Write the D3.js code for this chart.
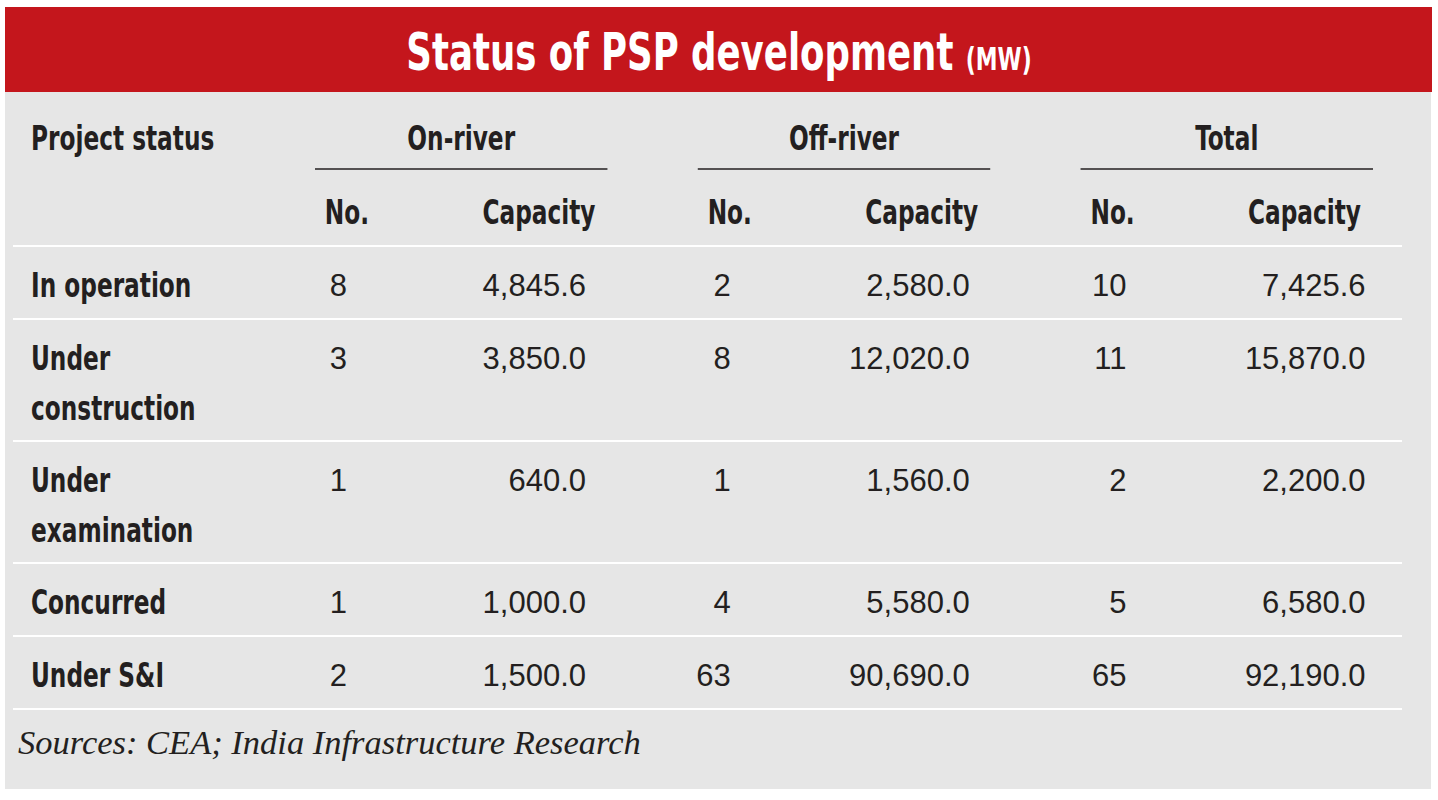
<!DOCTYPE html>
<html>
<head>
<meta charset="utf-8">
<script src="https://cdn.jsdelivr.net/npm/d3@7"></script>
<style>
  body { margin: 0; background: #fff; }
  .cond { font-family: "Liberation Sans Narrow", "DejaVu Sans Condensed", "Liberation Sans", sans-serif; font-weight: bold; font-stretch: condensed; }
  .num { font-family: "Liberation Sans", Arial, sans-serif; }
  .src { font-family: "Liberation Serif", "DejaVu Serif", serif; font-style: italic; }
</style>
</head>
<body>
<svg id="table"></svg>
<script>
const title = "Status of PSP development";
const titleUnit = "(MW)";
const groups = ["On-river", "Off-river", "Total"];
const subHeads = ["No.", "Capacity"];
const statuses = ["In operation", "Under construction", "Under examination", "Concurred", "Under S&I"];
const statusLines = [["In operation"], ["Under", "construction"], ["Under", "examination"], ["Concurred"], ["Under S&I"]];
const onRiverNo = [8, 3, 1, 1, 2];
const onRiverCap = [4845.6, 3850.0, 640.0, 1000.0, 1500.0];
const offRiverNo = [2, 8, 1, 4, 63];
const offRiverCap = [2580.0, 12020.0, 1560.0, 5580.0, 90690.0];
const totalNo = [10, 11, 2, 5, 65];
const totalCap = [7425.6, 15870.0, 2200.0, 6580.0, 92190.0];
const source = "Sources: CEA; India Infrastructure Research";

// the original uses a very narrow bold face; squeeze the condensed one we have
const squeeze = 0.76;

function condText(parent, x, y, size, anchor) {
  return parent.append('g')
    .attr('transform', `translate(${x},${y}) scale(${squeeze},1)`)
    .append('text')
    .attr('class', 'cond')
    .attr('font-size', size)
    .attr('text-anchor', anchor)
    .attr('fill', '#231f20');
}

function drawTable(width, height) {
  const svg = d3.select('#table')
    .attr('width', width)
    .attr('height', height);

  const ink = '#231f20';
  const fmt = d3.format(',.1f');

  // panel + red title band
  svg.append('rect')
    .attr('x', 5).attr('y', 7)
    .attr('width', 1426).attr('height', 782)
    .attr('fill', '#e6e6e6');
  svg.append('rect')
    .attr('x', 5).attr('y', 7)
    .attr('width', 1427).attr('height', 85)
    .attr('fill', '#c4161c');

  const t = condText(svg, 719, 70, 52, 'middle')
    .attr('fill', '#fff');
  t.append('tspan').text(title + ' ');
  t.append('tspan').attr('font-size', 32).text(titleUnit);

  // column groups
  const xGroup = d3.scaleBand()
    .domain(groups)
    .range([315, 1373])
    .paddingInner(0.236);
  const bw = xGroup.bandwidth();

  condText(svg, 31, 150, 34, 'start').text('Project status');

  groups.forEach(grp => {
    const g = svg.append('g')
      .attr('transform', `translate(${xGroup(grp)},0)`);

    condText(g, bw / 2, 150, 34, 'middle').text(grp);

    g.append('line')
      .attr('x1', 0).attr('x2', bw)
      .attr('y1', 169).attr('y2', 169)
      .attr('stroke', ink)
      .attr('stroke-width', 1.5);

    condText(g, 32, 224, 34, 'middle').text(subHeads[0]);
    condText(g, bw - 12, 224, 34, 'end').text(subHeads[1]);
  });

  // rows: height grows with the number of label lines
  const rowTop = [];
  let y = 246;
  statusLines.forEach(l => { rowTop.push(y); y += 73 + (l.length - 1) * 49; });
  const tableBottom = y;

  const lineYs = rowTop.concat([tableBottom]);
  svg.selectAll('.sep')
    .data(lineYs)
    .enter()
    .append('line')
    .attr('x1', 13).attr('x2', 1402)
    .attr('y1', d => d).attr('y2', d => d)
    .attr('stroke', '#fff')
    .attr('stroke-width', 2);

  const rows = svg.selectAll('.row')
    .data(statuses)
    .enter()
    .append('g')
    .attr('transform', (d, i) => `translate(0,${rowTop[i]})`);

  rows.each(function (d, i) {
    const lbl = condText(d3.select(this), 31, 0, 34, 'start');
    lbl.selectAll('tspan')
      .data(statusLines[i])
      .enter()
      .append('tspan')
      .attr('x', 0)
      .attr('y', (s, j) => 51 + j * 50)
      .text(s => s);
  });

  const numCols = [
    [onRiverNo, onRiverCap],
    [offRiverNo, offRiverCap],
    [totalNo, totalCap]
  ];
  // the Total columns sit a little further right in the original
  const shift = [0, 1, 14];

  groups.forEach((grp, k) => {
    const x0 = xGroup(grp) + shift[k];
    rows.append('text')
      .attr('class', 'num')
      .attr('x', x0 + 32).attr('y', 50)
      .attr('text-anchor', 'end')
      .attr('font-size', 31)
      .attr('fill', ink)
      .text((d, i) => numCols[k][0][i]);
    rows.append('text')
      .attr('class', 'num')
      .attr('x', x0 + 271).attr('y', 50)
      .attr('text-anchor', 'end')
      .attr('font-size', 31)
      .attr('fill', ink)
      .text((d, i) => fmt(numCols[k][1][i]));
  });

  svg.append('text')
    .attr('class', 'src')
    .attr('x', 18).attr('y', tableBottom + 45)
    .attr('font-size', 34.5)
    .attr('fill', ink)
    .text(source);
}

drawTable(1438, 800);
</script>
</body>
</html>
